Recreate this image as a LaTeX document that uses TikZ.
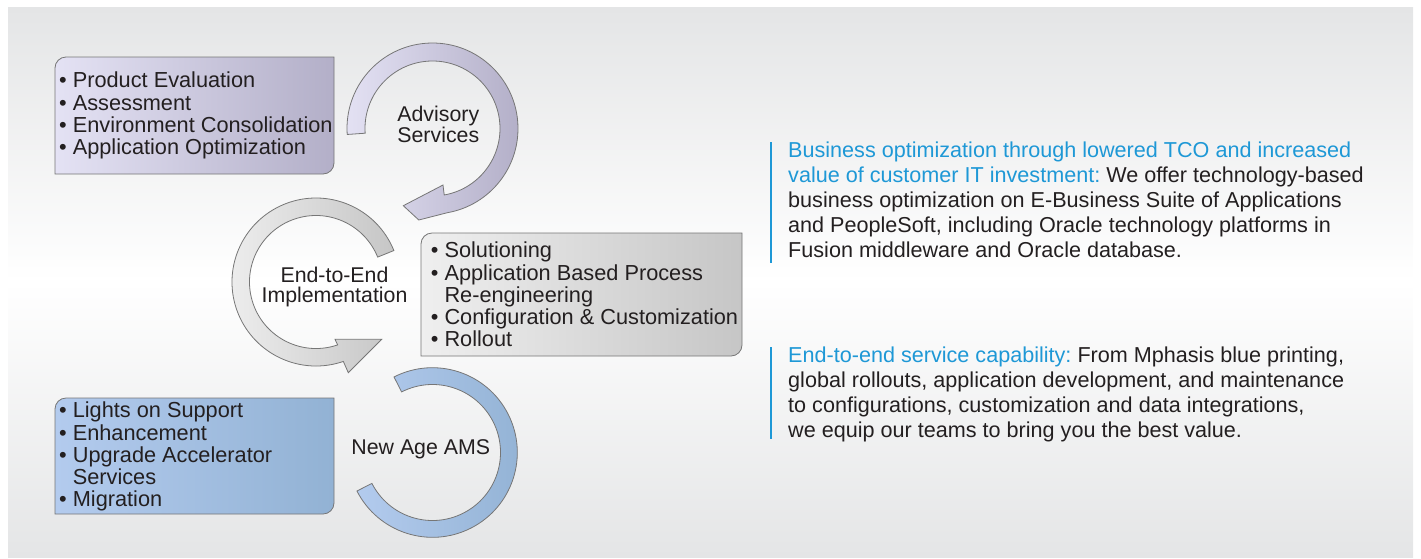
\documentclass[tikz,border=0pt]{standalone}
\usepackage{fontspec}
\setmainfont{Liberation Sans}
\frenchspacing

\definecolor{txtdark}{HTML}{231F20}
\definecolor{tcoblue}{HTML}{1E98D6}
\definecolor{bgshade}{HTML}{E4E5E6}
\definecolor{lilaclt}{HTML}{E4E2F4}
\definecolor{lilacdk}{HTML}{B3AFC8}
\definecolor{greylt}{HTML}{EFEFEF}
\definecolor{greydk}{HTML}{C6C6C6}
\definecolor{skylt}{HTML}{B3CBEE}
\definecolor{skydk}{HTML}{92B2D4}
\definecolor{rimgrey}{HTML}{767676}

\tikzset{every picture/.style={line width=0.75pt}}
\tikzset{
  rimline/.style={draw=rimgrey, line width=0.6pt},
  bulletlist/.style={anchor=north west, inner sep=0.75pt, align=left, text=txtdark, font=\fontsize{16.3}{16.7}\selectfont},
  ringlabel/.style={inner sep=0.75pt, align=center, text=txtdark, font=\fontsize{16}{15.4}\selectfont},
  sidenote/.style={anchor=north west, inner sep=0.75pt, align=left, text=txtdark, font=\fontsize{16.2}{18.75}\selectfont},
}

\begin{document}
\begin{tikzpicture}[x=0.75pt,y=0.75pt,yscale=-1,xscale=1]
\useasboundingbox (0,0) rectangle (1421,558);

%Shape: Background
\fill[top color=bgshade, bottom color=bgshade, middle color=white] (8,7) rectangle (1413,557);

%Shape: Arc Arrow [advisory]
\draw[rimline, left color=lilaclt, right color=lilacdk, shift={(432.5,128.5)}] (176:85.5) arc[start angle=176, end angle=440, radius=85.5] -- (-13.7,91.5) -- (-29.2,77.2) -- (10.5,56.5) -- (80:67.5) arc[start angle=440, end angle=176, radius=67.5] -- cycle ;
%Shape: Arc Arrow [implementation]
\draw[rimline, left color=greylt, right color=greydk, shift={(316,282)}] (338:84) arc[start angle=338, end angle=71, radius=84] -- (32.3,90.7) -- (65.7,57.3) -- (19,57.3) -- (71:66.5) arc[start angle=71, end angle=338, radius=66.5] -- cycle ;
%Shape: Arc [ams]
\draw[rimline, left color=skylt, right color=skydk, shift={(432.5,452.5)}] (243:84.8) arc[start angle=243, end angle=513, radius=84.8] -- (513:68) arc[start angle=513, end angle=243, radius=68] -- cycle ;

%Shape: Box [advisory]
\draw[rimline, left color=lilaclt, right color=lilacdk] (55,174) -- (55,68) arc[start angle=180, end angle=270, radius=11] -- (334,57) -- (334,163) arc[start angle=0, end angle=90, radius=11] -- cycle ;
%Shape: Box [implementation]
\draw[rimline, left color=greylt, right color=greydk] (421,356) -- (421,244) arc[start angle=180, end angle=270, radius=11] -- (742,233) -- (742,345) arc[start angle=0, end angle=90, radius=11] -- cycle ;
%Shape: Box [ams]
\draw[rimline, left color=skylt, right color=skydk] (55,514) -- (55,409) arc[start angle=180, end angle=270, radius=11] -- (334,398) -- (334,503) arc[start angle=0, end angle=90, radius=11] -- cycle ;

%Straight Lines [side bars]
\draw[tcoblue, line width=2.2pt] (771,142) -- (771,263) ;
\draw[tcoblue, line width=2.2pt] (771,347) -- (771,439) ;

% Text Node
\draw (438.3,124.5) node [ringlabel] (advlbl) {Advisory\\Services};
% Text Node
\draw (334.5,287) node [ringlabel] (implbl) {End-to-End\\Implementation};
% Text Node
\draw (420.8,449.7) node [ringlabel] (amslbl) {New Age AMS};

% Text Node
\draw (57.7,70.5) node [bulletlist] (advlist) {• Product Evaluation\\• Assessment\\• Environment Consolidation\\• Application Optimization};
% Text Node
\draw (429.4,240.5) node [bulletlist] (implist) {• Solutioning\\• Application Based Process\\\phantom{•} Re-engineering\\• Configuration \& Customization\\• Rollout};
% Text Node
\draw (57.7,400.5) node [bulletlist] (amslist) {• Lights on Support\\• Enhancement\\• Upgrade Accelerator\\\phantom{•} Services\\• Migration};

% Text Node
\draw (786.7,140.6) node [sidenote] (tconote) {{\color{tcoblue}Business optimization through lowered TCO and increased}\\{\color{tcoblue}value of customer IT investment:} We offer technology-based\\business optimization on E-Business Suite of Applications\\and PeopleSoft, including Oracle technology platforms in\\Fusion middleware and Oracle database.};
% Text Node
\draw (786.7,345.6) node [sidenote] (e2enote) {{\color{tcoblue}End-to-end service capability:} From Mphasis blue printing,\\global rollouts, application development, and maintenance\\to configurations, customization and data integrations,\\we equip our teams to bring you the best value.};

\end{tikzpicture}
\end{document}
